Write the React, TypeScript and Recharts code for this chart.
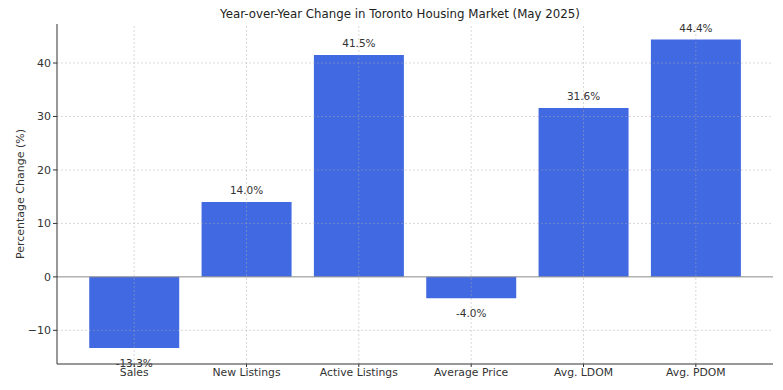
import React from 'react';
import { BarChart, Bar, XAxis, YAxis, ReferenceLine, LabelList } from 'recharts';

const categories = ['Sales', 'New Listings', 'Active Listings', 'Average Price', 'Avg. LDOM', 'Avg. PDOM'];
const changes = [-13.3, 14.0, 41.5, -4.0, 31.6, 44.4];
const yTicks = [-10, 0, 10, 20, 30, 40];

const data = categories.map((name, i) => ({ name, value: changes[i] }));

const FONT = '"DejaVu Sans", sans-serif';
const GRID = 'rgba(170,170,170,0.45)';

const ValueLabel = (props: any) => {
  const { x, y, width, height, value } = props;
  const cx = x + width / 2;
  const neg = value < 0;
  // for negative bars y+height is the bar end
  const end = neg ? Math.max(y, y + height) : Math.min(y, y + height);
  const ty = neg ? end + 16 : end - 11;
  return (
    <text x={cx} y={ty} textAnchor="middle" dominantBaseline="middle" fontSize={10.5} fill="#333" fontFamily={FONT}>
      {value.toFixed(1)}%
    </text>
  );
};

const fmtTick = (v: number) => (v < 0 ? `\u2212${Math.abs(v)}` : `${v}`);

const App: React.FC = () => {
  return (
    <div style={{ position: 'absolute', left: 0, top: 0, width: 783, height: 390, background: '#fff', fontFamily: FONT }}>
      <div style={{ position: 'absolute', top: 7, left: 0, width: 800, textAlign: 'center', fontSize: 11.8, color: '#222' }}>
        Year-over-Year Change in Toronto Housing Market (May 2025)
      </div>
      <BarChart
        width={783}
        height={390}
        data={data}
        margin={{ top: 24, right: 10, left: 12, bottom: 6 }}
        barCategoryGap="10%"
      >
        <XAxis
          dataKey="name"
          height={20}
          padding={{ left: 21, right: 21 }}
          axisLine={{ stroke: '#333', strokeWidth: 1 }}
          tickLine={{ stroke: '#333' }}
          tickSize={3}
          tick={{ fontSize: 10.8, fill: '#333', fontFamily: FONT, dy: -1 }}
          interval={0}
        />
        <YAxis
          width={45}
          domain={[-16.3, 47.3]}
          ticks={yTicks}
          allowDataOverflow
          tickFormatter={fmtTick}
          axisLine={{ stroke: '#333', strokeWidth: 1 }}
          tickLine={{ stroke: '#333' }}
          tickSize={4}
          tick={{ fontSize: 11, fill: '#333', fontFamily: FONT }}
          label={{
            value: 'Percentage Change (%)',
            angle: -90,
            position: 'insideLeft',
            offset: 8,
            style: { textAnchor: 'middle', fontSize: 11, fill: '#333', fontFamily: FONT },
          }}
        />
        <Bar dataKey="value" fill="#4169E1" isAnimationActive={false}>
          <LabelList dataKey="value" content={ValueLabel} />
        </Bar>
        {categories.map((c) => (
          <ReferenceLine key={c} x={c} stroke={GRID} strokeDasharray="2 2" />
        ))}
        {yTicks.filter((t) => t !== 0).map((t) => (
          <ReferenceLine key={t} y={t} stroke={GRID} strokeDasharray="2 2" />
        ))}
        <ReferenceLine y={0} stroke="#8a8a8a" strokeWidth={1} />
      </BarChart>
    </div>
  );
};

export default App;
